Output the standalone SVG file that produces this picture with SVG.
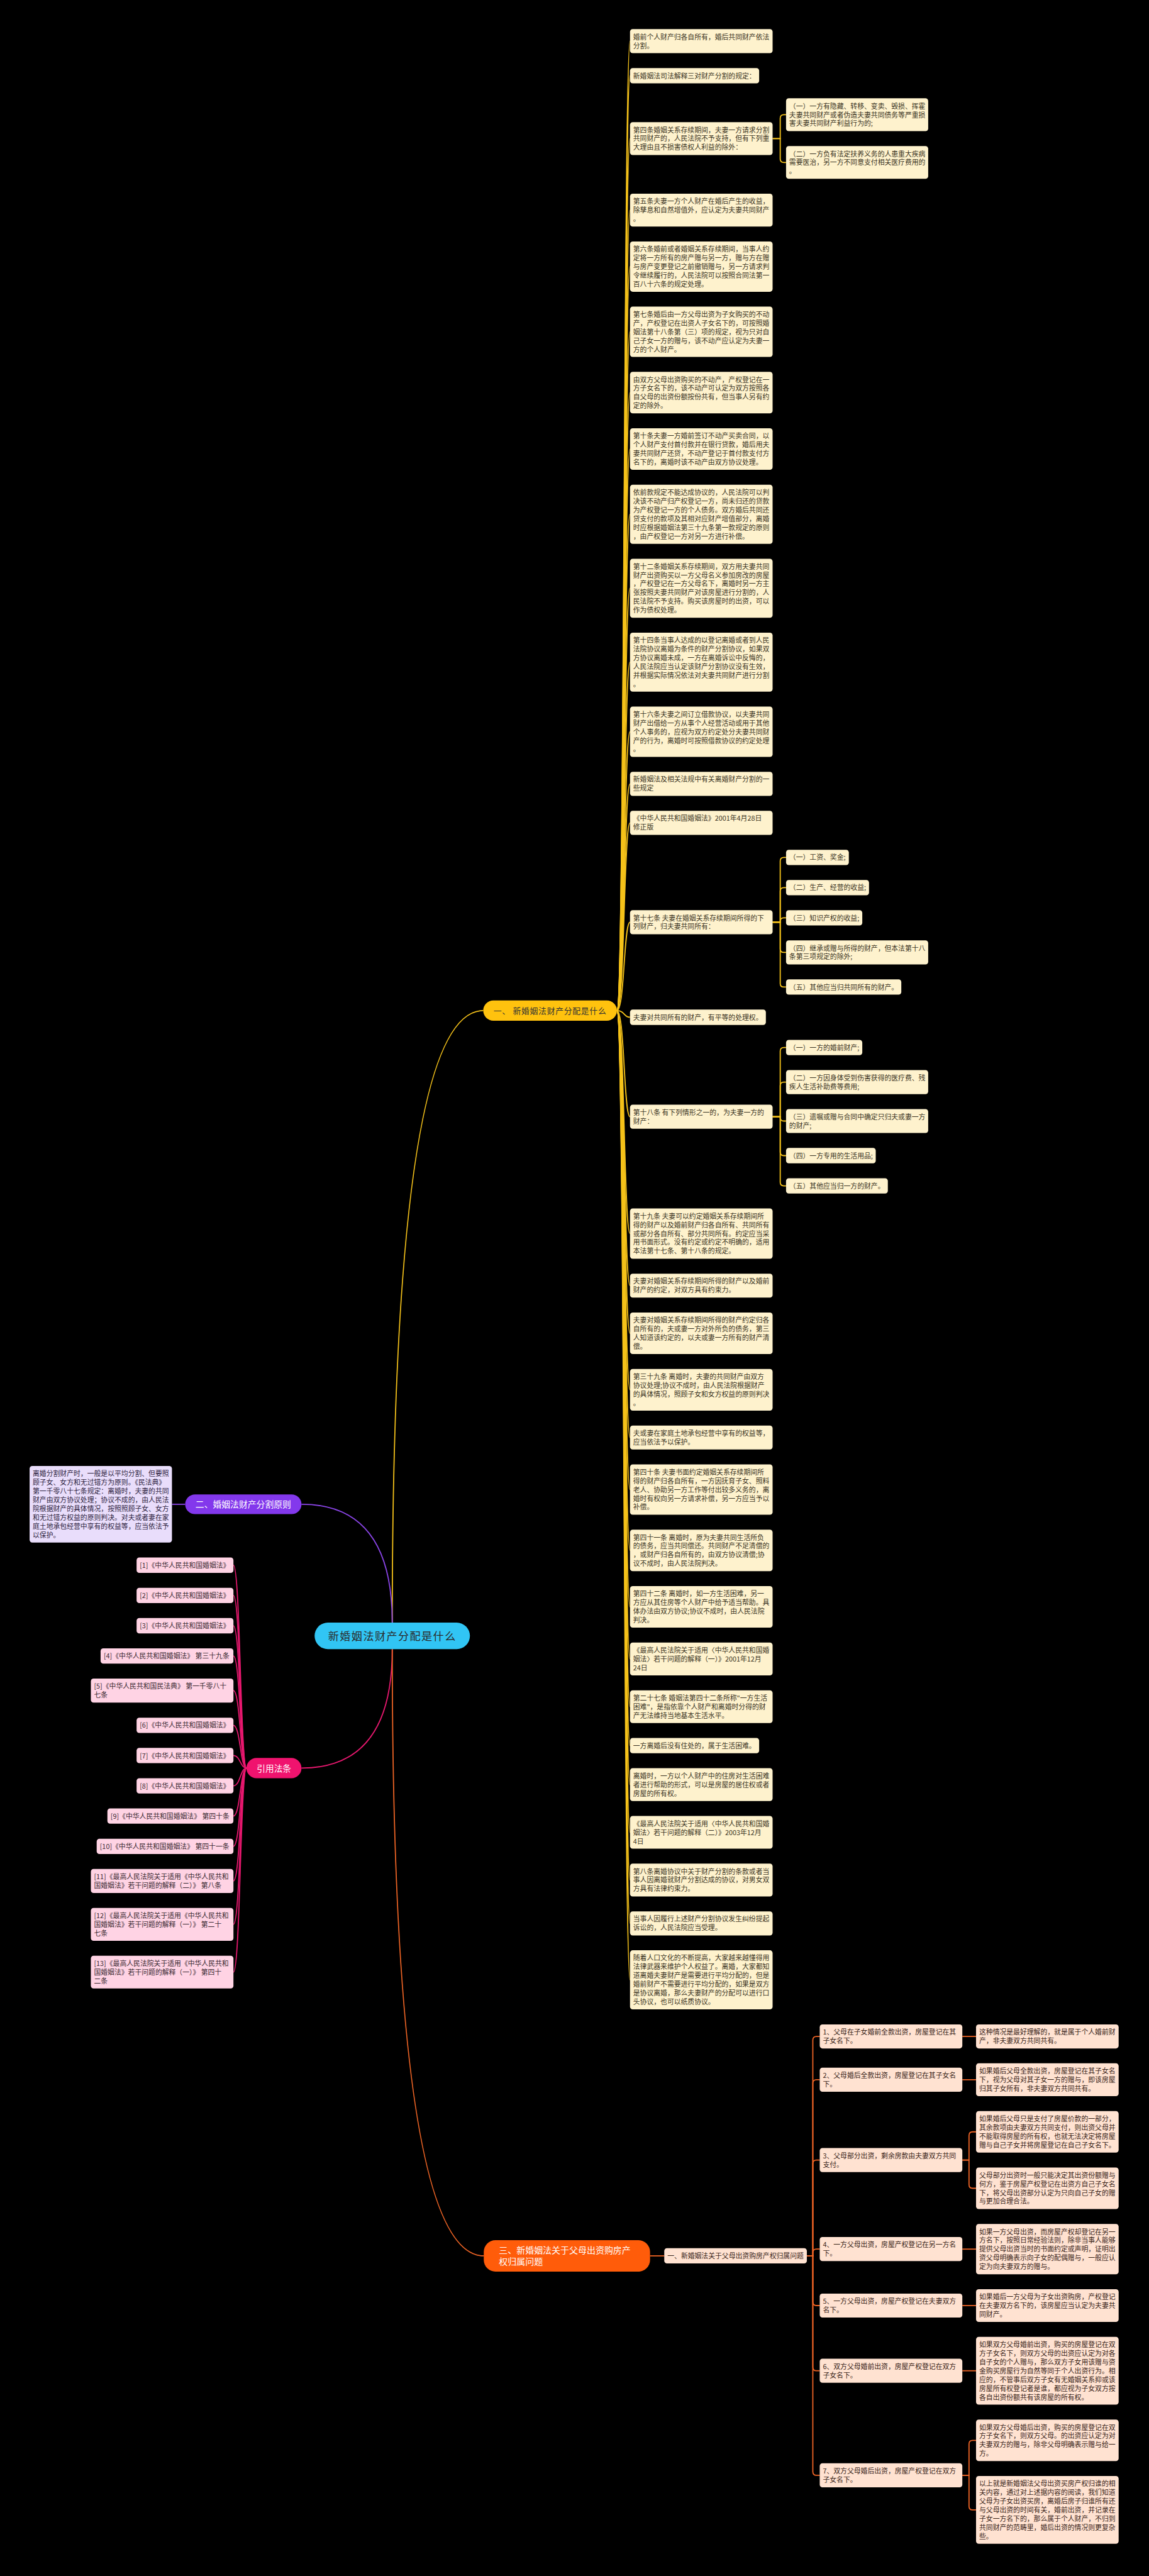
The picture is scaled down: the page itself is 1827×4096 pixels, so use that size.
<svg xmlns="http://www.w3.org/2000/svg" width="1827" height="4096" viewBox="0 0 1827 4096">
<style>
text{font-family:"Noto Sans CJK SC","Noto Sans",sans-serif}
.t{font-size:15.2px;fill:#3b3424}
.to{font-size:15.2px;fill:#3a2519}
.tr{font-size:15.2px;fill:#3a2a32}
.tl{font-size:15.2px;fill:#2d2340}
.ny{fill:#FEF2CD}
.np{fill:#FFE2D1}
.nr{fill:#FFD3E4}
.nl{fill:#E9DDFB}
.c{fill:none;stroke-width:2.5}
.cy{stroke:#F5C21A}
.co{stroke:#EE6425}
.cp{stroke:#8B45E8}
.cr{stroke:#E8186F}
</style>
<rect x="0" y="0" width="1827" height="4096" fill="#000"/>
<g transform="scale(0.713)">
<g id="connectors">
<path class="c cy" d="M874.8,3618.6 Q874.8,2253.6 1077.7,2253.6"/>
<path class="c cp" d="M874.8,3618.6 Q874.8,3354.7 672.3,3354.7"/>
<path class="c cr" d="M874.8,3677.6 Q874.8,3943 672.3,3943"/>
<path class="c co" d="M874.8,3677.6 Q874.8,5030.8 1078.9,5030.8"/>
<path class="c cp" d="M413,3354.7 H383.5"/>
<g id="c-yellow">
<path class="c cy" d="M1375.8,2253.6 C1393,2253.6 1391,91.8 1405,91.8"/>
<path class="c cy" d="M1375.8,2253.6 C1393,2253.6 1391,168.95 1405,168.95"/>
<path class="c cy" d="M1375.8,2253.6 C1393,2253.6 1391,309.05 1405,309.05"/>
<path class="c cy" d="M1375.8,2253.6 C1393,2253.6 1391,468.65 1405,468.65"/>
<path class="c cy" d="M1375.8,2253.6 C1393,2253.6 1391,594.55 1405,594.55"/>
<path class="c cy" d="M1375.8,2253.6 C1393,2253.6 1391,739.95 1405,739.95"/>
<path class="c cy" d="M1375.8,2253.6 C1393,2253.6 1391,875.6 1405,875.6"/>
<path class="c cy" d="M1375.8,2253.6 C1393,2253.6 1391,1001.5 1405,1001.5"/>
<path class="c cy" d="M1375.8,2253.6 C1393,2253.6 1391,1146.9 1405,1146.9"/>
<path class="c cy" d="M1375.8,2253.6 C1393,2253.6 1391,1311.8 1405,1311.8"/>
<path class="c cy" d="M1375.8,2253.6 C1393,2253.6 1391,1476.7 1405,1476.7"/>
<path class="c cy" d="M1375.8,2253.6 C1393,2253.6 1391,1631.85 1405,1631.85"/>
<path class="c cy" d="M1375.8,2253.6 C1393,2253.6 1391,1748 1405,1748"/>
<path class="c cy" d="M1375.8,2253.6 C1393,2253.6 1391,1834.9 1405,1834.9"/>
<path class="c cy" d="M1375.8,2253.6 C1393,2253.6 1391,2056.6 1405,2056.6"/>
<path class="c cy" d="M1375.8,2253.6 C1393,2253.6 1391,2268.55 1405,2268.55"/>
<path class="c cy" d="M1375.8,2253.6 C1393,2253.6 1391,2490.25 1405,2490.25"/>
<path class="c cy" d="M1375.8,2253.6 C1393,2253.6 1391,2750.95 1405,2750.95"/>
<path class="c cy" d="M1375.8,2253.6 C1393,2253.6 1391,2867.1 1405,2867.1"/>
<path class="c cy" d="M1375.8,2253.6 C1393,2253.6 1391,2973.5 1405,2973.5"/>
<path class="c cy" d="M1375.8,2253.6 C1393,2253.6 1391,3099.4 1405,3099.4"/>
<path class="c cy" d="M1375.8,2253.6 C1393,2253.6 1391,3205.8 1405,3205.8"/>
<path class="c cy" d="M1375.8,2253.6 C1393,2253.6 1391,3321.95 1405,3321.95"/>
<path class="c cy" d="M1375.8,2253.6 C1393,2253.6 1391,3457.6 1405,3457.6"/>
<path class="c cy" d="M1375.8,2253.6 C1393,2253.6 1391,3583.5 1405,3583.5"/>
<path class="c cy" d="M1375.8,2253.6 C1393,2253.6 1391,3699.65 1405,3699.65"/>
<path class="c cy" d="M1375.8,2253.6 C1393,2253.6 1391,3806.05 1405,3806.05"/>
<path class="c cy" d="M1375.8,2253.6 C1393,2253.6 1391,3892.95 1405,3892.95"/>
<path class="c cy" d="M1375.8,2253.6 C1393,2253.6 1391,3979.85 1405,3979.85"/>
<path class="c cy" d="M1375.8,2253.6 C1393,2253.6 1391,4086.25 1405,4086.25"/>
<path class="c cy" d="M1375.8,2253.6 C1393,2253.6 1391,4192.65 1405,4192.65"/>
<path class="c cy" d="M1375.8,2253.6 C1393,2253.6 1391,4289.3 1405,4289.3"/>
<path class="c cy" d="M1375.8,2253.6 C1393,2253.6 1391,4415.2 1405,4415.2"/>
<path class="c cy" d="M1723,309.05H1740V263.85Q1740,255.85 1748,255.85H1753"/>
<path class="c cy" d="M1723,309.05H1740V354.25Q1740,362.25 1748,362.25H1753"/>
<path class="c cy" d="M1723,2056.6H1740V1920.05Q1740,1912.05 1748,1912.05H1753"/>
<path class="c cy" d="M1723,2056.6H1740V1987.45Q1740,1979.45 1748,1979.45H1753"/>
<path class="c cy" d="M1723,2056.6H1740V2054.85Q1740,2046.85 1748,2046.85H1753"/>
<path class="c cy" d="M1723,2056.6H1740V2116Q1740,2124 1748,2124H1753"/>
<path class="c cy" d="M1723,2056.6H1740V2193.15Q1740,2201.15 1748,2201.15H1753"/>
<path class="c cy" d="M1723,2490.25H1740V2343.95Q1740,2335.95 1748,2335.95H1753"/>
<path class="c cy" d="M1723,2490.25H1740V2421.1Q1740,2413.1 1748,2413.1H1753"/>
<path class="c cy" d="M1723,2490.25H1740V2492Q1740,2500 1748,2500H1753"/>
<path class="c cy" d="M1723,2490.25H1740V2569.15Q1740,2577.15 1748,2577.15H1753"/>
<path class="c cy" d="M1723,2490.25H1740V2636.55Q1740,2644.55 1748,2644.55H1753"/>
</g>
<g id="c-refs">
<path class="c cr" d="M549.6,3943 C536,3943 536,3490.55 520.5,3490.55"/>
<path class="c cr" d="M549.6,3943 C536,3943 536,3558.05 520.5,3558.05"/>
<path class="c cr" d="M549.6,3943 C536,3943 536,3625.55 520.5,3625.55"/>
<path class="c cr" d="M549.6,3943 C536,3943 536,3693.05 520.5,3693.05"/>
<path class="c cr" d="M549.6,3943 C536,3943 536,3770.3 520.5,3770.3"/>
<path class="c cr" d="M549.6,3943 C536,3943 536,3847.55 520.5,3847.55"/>
<path class="c cr" d="M549.6,3943 C536,3943 536,3915.05 520.5,3915.05"/>
<path class="c cr" d="M549.6,3943 C536,3943 536,3982.55 520.5,3982.55"/>
<path class="c cr" d="M549.6,3943 C536,3943 536,4050.05 520.5,4050.05"/>
<path class="c cr" d="M549.6,3943 C536,3943 536,4117.55 520.5,4117.55"/>
<path class="c cr" d="M549.6,3943 C536,3943 536,4194.8 520.5,4194.8"/>
<path class="c cr" d="M549.6,3943 C536,3943 536,4291.55 520.5,4291.55"/>
<path class="c cr" d="M549.6,3943 C536,3943 536,4398.05 520.5,4398.05"/>
</g>
<g id="c-orange">
<path class="c co" d="M1449.7,5030.8 H1481.4"/>
<path class="c co" d="M1799.2,5030.8H1812.7V4549.4Q1812.7,4541.4 1820.7,4541.4H1828.1"/>
<path class="c co" d="M1799.2,5030.8H1812.7V4646.05Q1812.7,4638.05 1820.7,4638.05H1828.1"/>
<path class="c co" d="M1799.2,5030.8H1812.7V4825.15Q1812.7,4817.15 1820.7,4817.15H1828.1"/>
<path class="c co" d="M1799.2,5030.8H1812.7V5023.75Q1812.7,5015.75 1820.7,5015.75H1828.1"/>
<path class="c co" d="M1799.2,5030.8H1812.7V5133.65Q1812.7,5141.65 1820.7,5141.65H1828.1"/>
<path class="c co" d="M1799.2,5030.8H1812.7V5279.05Q1812.7,5287.05 1820.7,5287.05H1828.1"/>
<path class="c co" d="M1799.2,5030.8H1812.7V5512.1Q1812.7,5520.1 1820.7,5520.1H1828.1"/>
<path class="c co" d="M2146.1,4541.4H2176.7"/>
<path class="c co" d="M2146.1,4638.05H2176.7"/>
<path class="c co" d="M2146.1,4817.15H2161V4762.2Q2161,4754.2 2169,4754.2H2176.7"/>
<path class="c co" d="M2146.1,4817.15H2161V4872.1Q2161,4880.1 2169,4880.1H2176.7"/>
<path class="c co" d="M2146.1,5015.75H2176.7"/>
<path class="c co" d="M2146.1,5141.65H2176.7"/>
<path class="c co" d="M2146.1,5287.05H2176.7"/>
<path class="c co" d="M2146.1,5520.1H2161V5450.2Q2161,5442.2 2169,5442.2H2176.7"/>
<path class="c co" d="M2146.1,5520.1H2161V5589.35Q2161,5597.35 2169,5597.35H2176.7"/>
</g>
</g>

<g id="main"><rect x="701.6" y="3618.6" width="346.4" height="59" rx="29.5" fill="#31C5F4"/><text x="874.8" y="3657.2" font-size="24" letter-spacing="2" text-anchor="middle" fill="#2b2b2b">新婚姻法财产分配是什么</text></g>
<g id="b1"><rect x="1077.7" y="2231" width="298.1" height="45.2" rx="22.6" fill="#FFC20E"/><text x="1226.7" y="2260.4" font-size="18" letter-spacing="1" text-anchor="middle" fill="#333">一、 新婚姻法财产分配是什么</text></g>
<g id="b2"><rect x="413" y="3332.7" width="259.3" height="44" rx="22" fill="#8338EC"/><text x="542.6" y="3362.1" font-size="19.4" text-anchor="middle" fill="#fff">二、婚姻法财产分割原则</text></g>
<g id="b-ref"><rect x="549.6" y="3920.5" width="122.7" height="45.1" rx="22.5" fill="#F0136E"/><text x="611" y="3950.3" font-size="19.2" text-anchor="middle" fill="#fff">引用法条</text></g>
<g id="b3"><rect x="1078.9" y="4995.8" width="370.8" height="70" rx="26" fill="#FF5C0A"/><text font-size="19.6" fill="#fff"><tspan x="1112.6" y="5025.8">三、新婚姻法关于父母出资购房产</tspan><tspan x="1112.6" y="5050.7">权归属问题</tspan></text></g>

<g id="lav" transform="translate(66,3269.3)"><rect class="nl" width="317.5" height="170.6" rx="6"/><text class="tl"><tspan x="7" y="22.85">离婚分割财产时，一般是以平均分割、但要照</tspan><tspan x="7" y="42.35">顾子女、女方和无过错方为原则。《民法典》</tspan><tspan x="7" y="61.85">第一千零八十七条规定：离婚时，夫妻的共同</tspan><tspan x="7" y="81.35">财产由双方协议处理；协议不成的，由人民法</tspan><tspan x="7" y="100.85">院根据财产的具体情况，按照照顾子女、女方</tspan><tspan x="7" y="120.35">和无过错方权益的原则判决。对夫或者妻在家</tspan><tspan x="7" y="139.85">庭土地承包经营中享有的权益等，应当依法予</tspan><tspan x="7" y="159.35">以保护。</tspan></text></g>

<g id="r1" transform="translate(304.6,3473.5)"><rect class="nr" width="216" height="34.1" rx="6"/><text class="tr" x="7" y="22.85">[1]《中华人民共和国婚姻法》</text></g>
<g id="r2" transform="translate(304.6,3541)"><rect class="nr" width="216" height="34.1" rx="6"/><text class="tr" x="7" y="22.85">[2]《中华人民共和国婚姻法》</text></g>
<g id="r3" transform="translate(304.6,3608.5)"><rect class="nr" width="216" height="34.1" rx="6"/><text class="tr" x="7" y="22.85">[3]《中华人民共和国婚姻法》</text></g>
<g id="r4" transform="translate(224.3,3676)"><rect class="nr" width="296.2" height="34.1" rx="6"/><text class="tr" x="7" y="22.85">[4]《中华人民共和国婚姻法》 第三十九条</text></g>
<g id="r5" transform="translate(202.6,3743.5)"><rect class="nr" width="318" height="53.6" rx="6"/><text class="tr"><tspan x="7" y="22.85">[5]《中华人民共和国民法典》 第一千零八十</tspan><tspan x="7" y="42.35">七条</tspan></text></g>
<g id="r6" transform="translate(304.6,3830.5)"><rect class="nr" width="216" height="34.1" rx="6"/><text class="tr" x="7" y="22.85">[6]《中华人民共和国婚姻法》</text></g>
<g id="r7" transform="translate(304.6,3898)"><rect class="nr" width="216" height="34.1" rx="6"/><text class="tr" x="7" y="22.85">[7]《中华人民共和国婚姻法》</text></g>
<g id="r8" transform="translate(304.6,3965.5)"><rect class="nr" width="216" height="34.1" rx="6"/><text class="tr" x="7" y="22.85">[8]《中华人民共和国婚姻法》</text></g>
<g id="r9" transform="translate(239.5,4033)"><rect class="nr" width="281" height="34.1" rx="6"/><text class="tr" x="7" y="22.85">[9]《中华人民共和国婚姻法》 第四十条</text></g>
<g id="r10" transform="translate(215.6,4100.5)"><rect class="nr" width="305" height="34.1" rx="6"/><text class="tr" x="7" y="22.85">[10]《中华人民共和国婚姻法》 第四十一条</text></g>
<g id="r11" transform="translate(202.6,4168)"><rect class="nr" width="318" height="53.6" rx="6"/><text class="tr"><tspan x="7" y="22.85">[11]《最高人民法院关于适用《中华人民共和</tspan><tspan x="7" y="42.35">国婚姻法》若干问题的解释（二）》 第八条</tspan></text></g>
<g id="r12" transform="translate(202.6,4255)"><rect class="nr" width="318" height="73.1" rx="6"/><text class="tr"><tspan x="7" y="22.85">[12]《最高人民法院关于适用《中华人民共和</tspan><tspan x="7" y="42.35">国婚姻法》若干问题的解释（一）》 第二十</tspan><tspan x="7" y="61.85">七条</tspan></text></g>
<g id="r13" transform="translate(202.6,4361.5)"><rect class="nr" width="318" height="73.1" rx="6"/><text class="tr"><tspan x="7" y="22.85">[13]《最高人民法院关于适用《中华人民共和</tspan><tspan x="7" y="42.35">国婚姻法》若干问题的解释（一）》 第四十</tspan><tspan x="7" y="61.85">二条</tspan></text></g>

<g id="n1" transform="translate(1405,65)"><rect class="ny" width="318" height="53.6" rx="6"/><text class="t"><tspan x="7" y="22.85">婚前个人财产归各自所有，婚后共同财产依法</tspan><tspan x="7" y="42.35">分割。</tspan></text></g>
<g id="n2" transform="translate(1405,151.9)"><rect class="ny" width="288" height="34.1" rx="6"/><text class="t" x="7" y="22.85">新婚姻法司法解释三对财产分割的规定：</text></g>
<g id="n3" transform="translate(1405,272.5)"><rect class="ny" width="318" height="73.1" rx="6"/><text class="t"><tspan x="7" y="22.85">第四条婚姻关系存续期间，夫妻一方请求分割</tspan><tspan x="7" y="42.35">共同财产的，人民法院不予支持，但有下列重</tspan><tspan x="7" y="61.85">大理由且不损害债权人利益的除外：</tspan></text></g>
<g id="n3a" transform="translate(1753,219.3)"><rect class="ny" width="317" height="73.1" rx="6"/><text class="t"><tspan x="7" y="22.85">（一）一方有隐藏、转移、变卖、毁损、挥霍</tspan><tspan x="7" y="42.35">夫妻共同财产或者伪造夫妻共同债务等严重损</tspan><tspan x="7" y="61.85">害夫妻共同财产利益行为的;</tspan></text></g>
<g id="n3b" transform="translate(1753,325.7)"><rect class="ny" width="317" height="73.1" rx="6"/><text class="t"><tspan x="7" y="22.85">（二）一方负有法定扶养义务的人患重大疾病</tspan><tspan x="7" y="42.35">需要医治，另一方不同意支付相关医疗费用的</tspan><tspan x="7" y="61.85">。</tspan></text></g>
<g id="n4" transform="translate(1405,432.1)"><rect class="ny" width="318" height="73.1" rx="6"/><text class="t"><tspan x="7" y="22.85">第五条夫妻一方个人财产在婚后产生的收益，</tspan><tspan x="7" y="42.35">除孳息和自然增值外，应认定为夫妻共同财产</tspan><tspan x="7" y="61.85">。</tspan></text></g>
<g id="n5" transform="translate(1405,538.5)"><rect class="ny" width="318" height="112.1" rx="6"/><text class="t"><tspan x="7" y="22.85">第六条婚前或者婚姻关系存续期间，当事人约</tspan><tspan x="7" y="42.35">定将一方所有的房产赠与另一方，赠与方在赠</tspan><tspan x="7" y="61.85">与房产变更登记之前撤销赠与，另一方请求判</tspan><tspan x="7" y="81.35">令继续履行的，人民法院可以按照合同法第一</tspan><tspan x="7" y="100.85">百八十六条的规定处理。</tspan></text></g>
<g id="n6" transform="translate(1405,683.9)"><rect class="ny" width="318" height="112.1" rx="6"/><text class="t"><tspan x="7" y="22.85">第七条婚后由一方父母出资为子女购买的不动</tspan><tspan x="7" y="42.35">产，产权登记在出资人子女名下的，可按照婚</tspan><tspan x="7" y="61.85">姻法第十八条第（三）项的规定，视为只对自</tspan><tspan x="7" y="81.35">己子女一方的赠与，该不动产应认定为夫妻一</tspan><tspan x="7" y="100.85">方的个人财产。</tspan></text></g>
<g id="n7" transform="translate(1405,829.3)"><rect class="ny" width="318" height="92.6" rx="6"/><text class="t"><tspan x="7" y="22.85">由双方父母出资购买的不动产，产权登记在一</tspan><tspan x="7" y="42.35">方子女名下的，该不动产可认定为双方按照各</tspan><tspan x="7" y="61.85">自父母的出资份额按份共有，但当事人另有约</tspan><tspan x="7" y="81.35">定的除外。</tspan></text></g>
<g id="n8" transform="translate(1405,955.2)"><rect class="ny" width="318" height="92.6" rx="6"/><text class="t"><tspan x="7" y="22.85">第十条夫妻一方婚前签订不动产买卖合同，以</tspan><tspan x="7" y="42.35">个人财产支付首付款并在银行贷款，婚后用夫</tspan><tspan x="7" y="61.85">妻共同财产还贷，不动产登记于首付款支付方</tspan><tspan x="7" y="81.35">名下的，离婚时该不动产由双方协议处理。</tspan></text></g>
<g id="n9" transform="translate(1405,1081.1)"><rect class="ny" width="318" height="131.6" rx="6"/><text class="t"><tspan x="7" y="22.85">依前款规定不能达成协议的，人民法院可以判</tspan><tspan x="7" y="42.35">决该不动产归产权登记一方，尚未归还的贷款</tspan><tspan x="7" y="61.85">为产权登记一方的个人债务。双方婚后共同还</tspan><tspan x="7" y="81.35">贷支付的款项及其相对应财产增值部分，离婚</tspan><tspan x="7" y="100.85">时应根据婚姻法第三十九条第一款规定的原则</tspan><tspan x="7" y="120.35">，由产权登记一方对另一方进行补偿。</tspan></text></g>
<g id="n10" transform="translate(1405,1246)"><rect class="ny" width="318" height="131.6" rx="6"/><text class="t"><tspan x="7" y="22.85">第十二条婚姻关系存续期间，双方用夫妻共同</tspan><tspan x="7" y="42.35">财产出资购买以一方父母名义参加房改的房屋</tspan><tspan x="7" y="61.85">，产权登记在一方父母名下，离婚时另一方主</tspan><tspan x="7" y="81.35">张按照夫妻共同财产对该房屋进行分割的，人</tspan><tspan x="7" y="100.85">民法院不予支持。购买该房屋时的出资，可以</tspan><tspan x="7" y="120.35">作为债权处理。</tspan></text></g>
<g id="n11" transform="translate(1405,1410.9)"><rect class="ny" width="318" height="131.6" rx="6"/><text class="t"><tspan x="7" y="22.85">第十四条当事人达成的以登记离婚或者到人民</tspan><tspan x="7" y="42.35">法院协议离婚为条件的财产分割协议，如果双</tspan><tspan x="7" y="61.85">方协议离婚未成，一方在离婚诉讼中反悔的，</tspan><tspan x="7" y="81.35">人民法院应当认定该财产分割协议没有生效，</tspan><tspan x="7" y="100.85">并根据实际情况依法对夫妻共同财产进行分割</tspan><tspan x="7" y="120.35">。</tspan></text></g>
<g id="n12" transform="translate(1405,1575.8)"><rect class="ny" width="318" height="112.1" rx="6"/><text class="t"><tspan x="7" y="22.85">第十六条夫妻之间订立借款协议，以夫妻共同</tspan><tspan x="7" y="42.35">财产出借给一方从事个人经营活动或用于其他</tspan><tspan x="7" y="61.85">个人事务的，应视为双方约定处分夫妻共同财</tspan><tspan x="7" y="81.35">产的行为，离婚时可按照借款协议的约定处理</tspan><tspan x="7" y="100.85">。</tspan></text></g>
<g id="n13" transform="translate(1405,1721.2)"><rect class="ny" width="318" height="53.6" rx="6"/><text class="t"><tspan x="7" y="22.85">新婚姻法及相关法规中有关离婚财产分割的一</tspan><tspan x="7" y="42.35">些规定</tspan></text></g>
<g id="n14" transform="translate(1405,1808.1)"><rect class="ny" width="318" height="53.6" rx="6"/><text class="t"><tspan x="7" y="22.85">《中华人民共和国婚姻法》2001年4月28日</tspan><tspan x="7" y="42.35">修正版</tspan></text></g>
<g id="n15" transform="translate(1405,2029.8)"><rect class="ny" width="318" height="53.6" rx="6"/><text class="t"><tspan x="7" y="22.85">第十七条 夫妻在婚姻关系存续期间所得的下</tspan><tspan x="7" y="42.35">列财产，归夫妻共同所有：</tspan></text></g>
<g id="n15a" transform="translate(1753,1895)"><rect class="ny" width="140" height="34.1" rx="6"/><text class="t" x="7" y="22.85">（一）工资、奖金;</text></g>
<g id="n15b" transform="translate(1753,1962.4)"><rect class="ny" width="185" height="34.1" rx="6"/><text class="t" x="7" y="22.85">（二）生产、经营的收益;</text></g>
<g id="n15c" transform="translate(1753,2029.8)"><rect class="ny" width="170" height="34.1" rx="6"/><text class="t" x="7" y="22.85">（三）知识产权的收益;</text></g>
<g id="n15d" transform="translate(1753,2097.2)"><rect class="ny" width="317" height="53.6" rx="6"/><text class="t"><tspan x="7" y="22.85">（四）继承或赠与所得的财产，但本法第十八</tspan><tspan x="7" y="42.35">条第三项规定的除外;</tspan></text></g>
<g id="n15e" transform="translate(1753,2184.1)"><rect class="ny" width="257" height="34.1" rx="6"/><text class="t" x="7" y="22.85">（五）其他应当归共同所有的财产。</text></g>
<g id="n16" transform="translate(1405,2251.5)"><rect class="ny" width="303" height="34.1" rx="6"/><text class="t" x="7" y="22.85">夫妻对共同所有的财产，有平等的处理权。</text></g>
<g id="n17" transform="translate(1405,2463.45)"><rect class="ny" width="318" height="53.6" rx="6"/><text class="t"><tspan x="7" y="22.85">第十八条 有下列情形之一的，为夫妻一方的</tspan><tspan x="7" y="42.35">财产：</tspan></text></g>
<g id="n17a" transform="translate(1753,2318.9)"><rect class="ny" width="170" height="34.1" rx="6"/><text class="t" x="7" y="22.85">（一）一方的婚前财产;</text></g>
<g id="n17b" transform="translate(1753,2386.3)"><rect class="ny" width="317" height="53.6" rx="6"/><text class="t"><tspan x="7" y="22.85">（二）一方因身体受到伤害获得的医疗费、残</tspan><tspan x="7" y="42.35">疾人生活补助费等费用;</tspan></text></g>
<g id="n17c" transform="translate(1753,2473.2)"><rect class="ny" width="317" height="53.6" rx="6"/><text class="t"><tspan x="7" y="22.85">（三）遗嘱或赠与合同中确定只归夫或妻一方</tspan><tspan x="7" y="42.35">的财产;</tspan></text></g>
<g id="n17d" transform="translate(1753,2560.1)"><rect class="ny" width="200" height="34.1" rx="6"/><text class="t" x="7" y="22.85">（四）一方专用的生活用品;</text></g>
<g id="n17e" transform="translate(1753,2627.5)"><rect class="ny" width="227" height="34.1" rx="6"/><text class="t" x="7" y="22.85">（五）其他应当归一方的财产。</text></g>
<g id="n18" transform="translate(1405,2694.9)"><rect class="ny" width="318" height="112.1" rx="6"/><text class="t"><tspan x="7" y="22.85">第十九条 夫妻可以约定婚姻关系存续期间所</tspan><tspan x="7" y="42.35">得的财产以及婚前财产归各自所有、共同所有</tspan><tspan x="7" y="61.85">或部分各自所有、部分共同所有。约定应当采</tspan><tspan x="7" y="81.35">用书面形式。没有约定或约定不明确的，适用</tspan><tspan x="7" y="100.85">本法第十七条、第十八条的规定。</tspan></text></g>
<g id="n19" transform="translate(1405,2840.3)"><rect class="ny" width="318" height="53.6" rx="6"/><text class="t"><tspan x="7" y="22.85">夫妻对婚姻关系存续期间所得的财产以及婚前</tspan><tspan x="7" y="42.35">财产的约定，对双方具有约束力。</tspan></text></g>
<g id="n20" transform="translate(1405,2927.2)"><rect class="ny" width="318" height="92.6" rx="6"/><text class="t"><tspan x="7" y="22.85">夫妻对婚姻关系存续期间所得的财产约定归各</tspan><tspan x="7" y="42.35">自所有的，夫或妻一方对外所负的债务，第三</tspan><tspan x="7" y="61.85">人知道该约定的，以夫或妻一方所有的财产清</tspan><tspan x="7" y="81.35">偿。</tspan></text></g>
<g id="n21" transform="translate(1405,3053.1)"><rect class="ny" width="318" height="92.6" rx="6"/><text class="t"><tspan x="7" y="22.85">第三十九条 离婚时，夫妻的共同财产由双方</tspan><tspan x="7" y="42.35">协议处理;协议不成时，由人民法院根据财产</tspan><tspan x="7" y="61.85">的具体情况，照顾子女和女方权益的原则判决</tspan><tspan x="7" y="81.35">。</tspan></text></g>
<g id="n22" transform="translate(1405,3179)"><rect class="ny" width="318" height="53.6" rx="6"/><text class="t"><tspan x="7" y="22.85">夫或妻在家庭土地承包经营中享有的权益等，</tspan><tspan x="7" y="42.35">应当依法予以保护。</tspan></text></g>
<g id="n23" transform="translate(1405,3265.9)"><rect class="ny" width="318" height="112.1" rx="6"/><text class="t"><tspan x="7" y="22.85">第四十条 夫妻书面约定婚姻关系存续期间所</tspan><tspan x="7" y="42.35">得的财产归各自所有，一方因抚育子女、照料</tspan><tspan x="7" y="61.85">老人、协助另一方工作等付出较多义务的，离</tspan><tspan x="7" y="81.35">婚时有权向另一方请求补偿，另一方应当予以</tspan><tspan x="7" y="100.85">补偿。</tspan></text></g>
<g id="n24" transform="translate(1405,3411.3)"><rect class="ny" width="318" height="92.6" rx="6"/><text class="t"><tspan x="7" y="22.85">第四十一条 离婚时，原为夫妻共同生活所负</tspan><tspan x="7" y="42.35">的债务，应当共同偿还。共同财产不足清偿的</tspan><tspan x="7" y="61.85">，或财产归各自所有的，由双方协议清偿;协</tspan><tspan x="7" y="81.35">议不成时，由人民法院判决。</tspan></text></g>
<g id="n25" transform="translate(1405,3537.2)"><rect class="ny" width="318" height="92.6" rx="6"/><text class="t"><tspan x="7" y="22.85">第四十二条 离婚时，如一方生活困难，另一</tspan><tspan x="7" y="42.35">方应从其住房等个人财产中给予适当帮助。具</tspan><tspan x="7" y="61.85">体办法由双方协议;协议不成时，由人民法院</tspan><tspan x="7" y="81.35">判决。</tspan></text></g>
<g id="n26" transform="translate(1405,3663.1)"><rect class="ny" width="318" height="73.1" rx="6"/><text class="t"><tspan x="7" y="22.85">《最高人民法院关于适用〈中华人民共和国婚</tspan><tspan x="7" y="42.35">姻法〉若干问题的解释（一）》2001年12月</tspan><tspan x="7" y="61.85">24日</tspan></text></g>
<g id="n27" transform="translate(1405,3769.5)"><rect class="ny" width="318" height="73.1" rx="6"/><text class="t"><tspan x="7" y="22.85">第二十七条 婚姻法第四十二条所称"一方生活</tspan><tspan x="7" y="42.35">困难"，是指依靠个人财产和离婚时分得的财</tspan><tspan x="7" y="61.85">产无法维持当地基本生活水平。</tspan></text></g>
<g id="n28" transform="translate(1405,3875.9)"><rect class="ny" width="288" height="34.1" rx="6"/><text class="t" x="7" y="22.85">一方离婚后没有住处的，属于生活困难。</text></g>
<g id="n29" transform="translate(1405,3943.3)"><rect class="ny" width="318" height="73.1" rx="6"/><text class="t"><tspan x="7" y="22.85">离婚时，一方以个人财产中的住房对生活困难</tspan><tspan x="7" y="42.35">者进行帮助的形式，可以是房屋的居住权或者</tspan><tspan x="7" y="61.85">房屋的所有权。</tspan></text></g>
<g id="n30" transform="translate(1405,4049.7)"><rect class="ny" width="318" height="73.1" rx="6"/><text class="t"><tspan x="7" y="22.85">《最高人民法院关于适用〈中华人民共和国婚</tspan><tspan x="7" y="42.35">姻法〉若干问题的解释（二）》2003年12月</tspan><tspan x="7" y="61.85">4日</tspan></text></g>
<g id="n31" transform="translate(1405,4156.1)"><rect class="ny" width="318" height="73.1" rx="6"/><text class="t"><tspan x="7" y="22.85">第八条离婚协议中关于财产分割的条款或者当</tspan><tspan x="7" y="42.35">事人因离婚就财产分割达成的协议，对男女双</tspan><tspan x="7" y="61.85">方具有法律约束力。</tspan></text></g>
<g id="n32" transform="translate(1405,4262.5)"><rect class="ny" width="318" height="53.6" rx="6"/><text class="t"><tspan x="7" y="22.85">当事人因履行上述财产分割协议发生纠纷提起</tspan><tspan x="7" y="42.35">诉讼的，人民法院应当受理。</tspan></text></g>
<g id="n33" transform="translate(1405,4349.4)"><rect class="ny" width="318" height="131.6" rx="6"/><text class="t"><tspan x="7" y="22.85">随着人口文化的不断提高，大家越来越懂得用</tspan><tspan x="7" y="42.35">法律武器来维护个人权益了。离婚，大家都知</tspan><tspan x="7" y="61.85">道离婚夫妻财产是需要进行平均分配的，但是</tspan><tspan x="7" y="81.35">婚前财产不需要进行平均分配的，如果是双方</tspan><tspan x="7" y="100.85">是协议离婚，那么夫妻财产的分配可以进行口</tspan><tspan x="7" y="120.35">头协议，也可以纸质协议。</tspan></text></g>

<g id="s1" transform="translate(1481.4,5013.75)"><rect class="np" width="318" height="34.1" rx="6"/><text class="to" x="7" y="22.85">一、新婚姻法关于父母出资购房产权归属问题</text></g>
<g id="p1" transform="translate(1828.1,4514.6)"><rect class="np" width="318" height="53.6" rx="6"/><text class="to"><tspan x="7" y="22.85">1、父母在子女婚前全款出资，房屋登记在其</tspan><tspan x="7" y="42.35">子女名下。</tspan></text></g>
<g id="p2" transform="translate(1828.1,4611.25)"><rect class="np" width="318" height="53.6" rx="6"/><text class="to"><tspan x="7" y="22.85">2、父母婚后全款出资，房屋登记在其子女名</tspan><tspan x="7" y="42.35">下。</tspan></text></g>
<g id="p3" transform="translate(1828.1,4790.35)"><rect class="np" width="318" height="53.6" rx="6"/><text class="to"><tspan x="7" y="22.85">3、父母部分出资，剩余房款由夫妻双方共同</tspan><tspan x="7" y="42.35">支付。</tspan></text></g>
<g id="p4" transform="translate(1828.1,4988.95)"><rect class="np" width="318" height="53.6" rx="6"/><text class="to"><tspan x="7" y="22.85">4、一方父母出资，房屋产权登记在另一方名</tspan><tspan x="7" y="42.35">下。</tspan></text></g>
<g id="p5" transform="translate(1828.1,5114.85)"><rect class="np" width="318" height="53.6" rx="6"/><text class="to"><tspan x="7" y="22.85">5、一方父母出资，房屋产权登记在夫妻双方</tspan><tspan x="7" y="42.35">名下。</tspan></text></g>
<g id="p6" transform="translate(1828.1,5260.25)"><rect class="np" width="318" height="53.6" rx="6"/><text class="to"><tspan x="7" y="22.85">6、双方父母婚前出资，房屋产权登记在双方</tspan><tspan x="7" y="42.35">子女名下。</tspan></text></g>
<g id="p7" transform="translate(1828.1,5493.3)"><rect class="np" width="318" height="53.6" rx="6"/><text class="to"><tspan x="7" y="22.85">7、双方父母婚后出资，房屋产权登记在双方</tspan><tspan x="7" y="42.35">子女名下。</tspan></text></g>

<g id="q1" transform="translate(2176.7,4514.6)"><rect class="np" width="318" height="53.6" rx="6"/><text class="to"><tspan x="7" y="22.85">这种情况是最好理解的，就是属于个人婚前财</tspan><tspan x="7" y="42.35">产，非夫妻双方共同共有。</tspan></text></g>
<g id="q2" transform="translate(2176.7,4601.5)"><rect class="np" width="318" height="73.1" rx="6"/><text class="to"><tspan x="7" y="22.85">如果婚后父母全款出资，房屋登记在其子女名</tspan><tspan x="7" y="42.35">下，视为父母对其子女一方的赠与，即该房屋</tspan><tspan x="7" y="61.85">归其子女所有，非夫妻双方共同共有。</tspan></text></g>
<g id="q3a" transform="translate(2176.7,4707.9)"><rect class="np" width="318" height="92.6" rx="6"/><text class="to"><tspan x="7" y="22.85">如果婚后父母只是支付了房屋价款的一部分，</tspan><tspan x="7" y="42.35">其余款项由夫妻双方共同支付，则出资父母并</tspan><tspan x="7" y="61.85">不能取得房屋的所有权，也就无法决定将房屋</tspan><tspan x="7" y="81.35">赠与自己子女并将房屋登记在自己子女名下。</tspan></text></g>
<g id="q3b" transform="translate(2176.7,4833.8)"><rect class="np" width="318" height="92.6" rx="6"/><text class="to"><tspan x="7" y="22.85">父母部分出资时一般只能决定其出资份额赠与</tspan><tspan x="7" y="42.35">何方，鉴于房屋产权登记在出资方自己子女名</tspan><tspan x="7" y="61.85">下，将父母出资部分认定为只向自己子女的赠</tspan><tspan x="7" y="81.35">与更加合理合法。</tspan></text></g>
<g id="q4" transform="translate(2176.7,4959.7)"><rect class="np" width="318" height="112.1" rx="6"/><text class="to"><tspan x="7" y="22.85">如果一方父母出资，而房屋产权却登记在另一</tspan><tspan x="7" y="42.35">方名下，按照日常经验法则，除非当事人能够</tspan><tspan x="7" y="61.85">提供父母出资当时的书面约定或声明，证明出</tspan><tspan x="7" y="81.35">资父母明确表示向子女的配偶赠与，一般应认</tspan><tspan x="7" y="100.85">定为向夫妻双方的赠与。</tspan></text></g>
<g id="q5" transform="translate(2176.7,5105.1)"><rect class="np" width="318" height="73.1" rx="6"/><text class="to"><tspan x="7" y="22.85">如果婚后一方父母为子女出资购房，产权登记</tspan><tspan x="7" y="42.35">在夫妻双方名下的，该房屋应当认定为夫妻共</tspan><tspan x="7" y="61.85">同财产。</tspan></text></g>
<g id="q6" transform="translate(2176.7,5211.5)"><rect class="np" width="318" height="151.1" rx="6"/><text class="to"><tspan x="7" y="22.85">如果双方父母婚前出资，购买的房屋登记在双</tspan><tspan x="7" y="42.35">方子女名下，则双方父母的出资应认定为对各</tspan><tspan x="7" y="61.85">自子女的个人赠与，那么双方子女用该赠与资</tspan><tspan x="7" y="81.35">金购买房屋行为自然等同于个人出资行为。相</tspan><tspan x="7" y="100.85">应的，不管事后双方子女有无婚姻关系抑或该</tspan><tspan x="7" y="120.35">房屋所有权登记者是谁，都应视为子女双方按</tspan><tspan x="7" y="139.85">各自出资份额共有该房屋的所有权。</tspan></text></g>
<g id="q7a" transform="translate(2176.7,5395.9)"><rect class="np" width="318" height="92.6" rx="6"/><text class="to"><tspan x="7" y="22.85">如果双方父母婚后出资，购买的房屋登记在双</tspan><tspan x="7" y="42.35">方子女名下，则双方父母。的出资应认定为对</tspan><tspan x="7" y="61.85">夫妻双方的赠与，除非父母明确表示赠与给一</tspan><tspan x="7" y="81.35">方。</tspan></text></g>
<g id="q7b" transform="translate(2176.7,5521.8)"><rect class="np" width="318" height="151.1" rx="6"/><text class="to"><tspan x="7" y="22.85">以上就是新婚姻法父母出资买房产权归谁的相</tspan><tspan x="7" y="42.35">关内容，通过对上述据内容的阅读，我们知道</tspan><tspan x="7" y="61.85">父母为子女出资买房，离婚后房子归谁所有还</tspan><tspan x="7" y="81.35">与父母出资的时间有关，婚前出资，并记录在</tspan><tspan x="7" y="100.85">子女一方名下的，那么属于个人财产，不归到</tspan><tspan x="7" y="120.35">共同财产的范畴里，婚后出资的情况则更复杂</tspan><tspan x="7" y="139.85">些。</tspan></text></g>
</g>
</svg>
